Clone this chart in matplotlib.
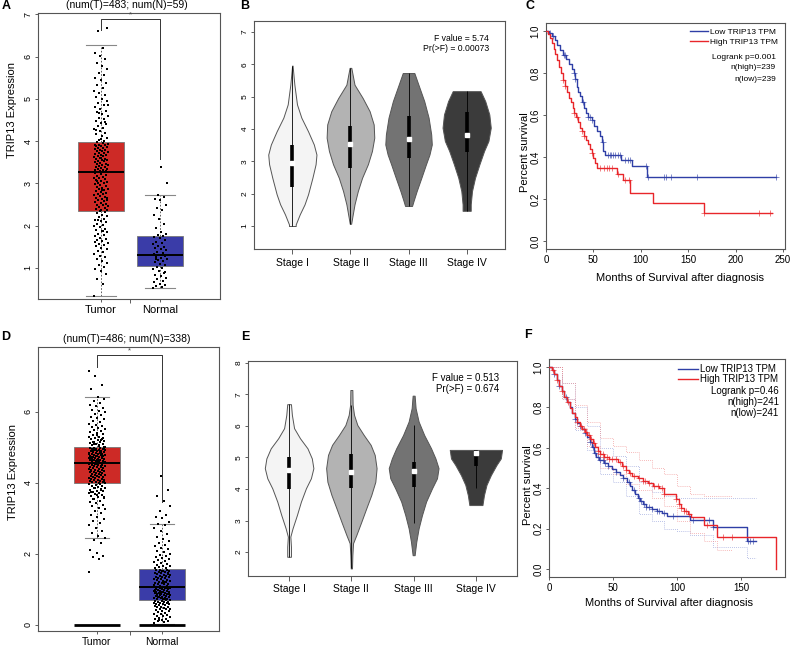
import numpy as np
import matplotlib
matplotlib.use("Agg")
import matplotlib.pyplot as plt

plt.rcParams['font.family'] = ['Liberation Sans', 'DejaVu Sans']

W, H = 790, 648

# ---------------- A / D : expression box plots ----------------
groups = ["Tumor", "Normal"]

A_title = "(num(T)=483; num(N)=59)"
A_q1 = [2.35, 1.05]
A_med = [3.27, 1.30]
A_q3 = [3.98, 1.75]
A_lo = [0.33, 0.52]
A_hi = [6.28, 2.73]
A_sig = [6.63, 6.89, 3.58]   # left drop, top, right drop

A_tumor = [
    0.33, 0.62, 0.74, 0.86, 0.93, 0.98, 1.03, 1.08, 1.12, 1.17, 1.21, 1.25, 1.29, 1.33,
    1.37, 1.41, 1.44, 1.48, 1.51, 1.54, 1.57, 1.6, 1.63, 1.66, 1.69, 1.72, 1.75, 1.78,
    1.81, 1.84, 1.87, 1.9, 1.93, 1.96, 1.99, 2.02, 2.05, 2.08, 2.11, 2.14, 2.17, 2.2,
    2.23, 2.26, 2.29, 2.32, 2.34, 1.62, 1.88, 2.13,
    2.36, 2.38, 2.4, 2.42, 2.44, 2.46, 2.48, 2.5, 2.52, 2.54, 2.56, 2.58, 2.6, 2.62,
    2.64, 2.66, 2.68, 2.7, 2.72, 2.74, 2.76, 2.78, 2.8, 2.82, 2.84, 2.86, 2.88, 2.9,
    2.92, 2.94, 2.96, 2.98, 3.0, 3.02, 3.04, 3.06, 3.08, 3.1, 3.12, 3.14, 3.16, 3.18,
    3.2, 3.22, 3.24, 3.26, 2.45, 2.65, 2.85, 3.05,
    3.28, 3.29, 3.31, 3.32, 3.34, 3.35, 3.37, 3.38, 3.4, 3.41, 3.43, 3.44, 3.46, 3.47,
    3.49, 3.5, 3.52, 3.53, 3.55, 3.56, 3.58, 3.59, 3.61, 3.62, 3.64, 3.65, 3.67, 3.68,
    3.7, 3.71, 3.73, 3.74, 3.76, 3.77, 3.79, 3.8, 3.82, 3.83, 3.85, 3.86, 3.88, 3.89,
    3.91, 3.92, 3.94, 3.95, 3.97, 3.3, 3.6, 3.9,
    4.0, 4.04, 4.08, 4.12, 4.16, 4.2, 4.24, 4.28, 4.32, 4.36, 4.4, 4.44, 4.48, 4.52,
    4.56, 4.6, 4.64, 4.68, 4.72, 4.76, 4.8, 4.85, 4.9, 4.95, 5.0, 5.05, 5.1, 5.15,
    5.2, 5.26, 5.32, 5.38, 5.44, 5.5, 5.56, 5.62, 5.7, 5.78, 5.86, 5.94, 6.02, 6.08,
    6.2, 6.62, 6.68, 4.06, 4.26, 4.46, 4.66, 4.86,
]
A_normal = [
    0.52, 0.55, 0.58, 0.6, 0.63, 0.66, 0.7, 0.73, 0.77, 0.8, 0.84, 0.88, 0.93, 0.97, 1.0,
    1.03, 1.06, 1.1, 1.13, 1.16, 1.19, 1.22, 1.24, 1.26, 1.28, 1.3, 1.32, 1.35, 1.38, 1.42,
    1.45, 1.48, 1.5, 1.53, 1.56, 1.58, 1.62, 1.66, 1.7, 1.73, 1.76, 1.78, 1.8, 1.85, 1.95,
    2.05, 2.15, 2.25, 2.38, 2.42, 2.5, 2.6, 2.63, 2.68, 2.72, 3.0, 3.4, 1.2, 0.9,
]

D_title = "(num(T)=486; num(N)=338)"
D_q1 = [3.98, 0.70]
D_med = [4.57, 1.06]
D_q3 = [5.01, 1.57]
D_lo = [2.44, 0.03]
D_hi = [6.41, 2.83]
D_base = [0.0, 0.0]
D_sig = [7.27, 7.59, 3.47]

D_tumor = [
    1.5, 1.86, 1.9, 1.95, 2.02, 2.1, 2.3, 2.4, 2.44, 2.5, 2.58, 2.65, 2.72, 2.8, 2.86,
    2.92, 2.98, 3.04, 3.1, 3.15, 3.2, 3.25, 3.3, 3.34, 3.38, 3.42, 3.46, 3.5, 3.53, 3.56,
    3.59, 3.62, 3.65, 3.68, 3.7, 3.72, 3.74, 3.76, 3.78, 3.8, 3.82, 3.84, 3.86, 3.88, 3.9,
    3.92, 3.94, 3.96, 3.97, 3.55, 3.61, 3.67, 3.73, 3.79, 3.85,
    3.99, 4.0, 4.01, 4.02, 4.03, 4.04, 4.06, 4.07, 4.08, 4.09, 4.1, 4.11, 4.13, 4.14, 4.15,
    4.16, 4.17, 4.18, 4.2, 4.21, 4.22, 4.23, 4.24, 4.25, 4.27, 4.28, 4.29, 4.3, 4.31, 4.32,
    4.34, 4.35, 4.36, 4.37, 4.38, 4.39, 4.41, 4.42, 4.43, 4.44, 4.45, 4.46, 4.48, 4.49, 4.5,
    4.51, 4.52, 4.53, 4.55, 4.56, 4.05, 4.19, 4.33, 4.47, 4.54,
    4.58, 4.59, 4.6, 4.61, 4.62, 4.63, 4.64, 4.65, 4.66, 4.67, 4.68, 4.69, 4.7, 4.71, 4.72,
    4.73, 4.74, 4.75, 4.76, 4.77, 4.78, 4.79, 4.8, 4.81, 4.82, 4.83, 4.84, 4.85, 4.86, 4.87,
    4.88, 4.89, 4.9, 4.91, 4.92, 4.93, 4.94, 4.95, 4.96, 4.97, 4.98, 4.99, 5.0, 4.615, 4.665,
    4.715, 4.765, 4.815, 4.865, 4.915, 4.965, 4.635, 4.735, 4.835, 4.935,
    5.02, 5.04, 5.06, 5.08, 5.1, 5.12, 5.14, 5.16, 5.18, 5.2, 5.22, 5.24, 5.26, 5.28, 5.3,
    5.33, 5.36, 5.39, 5.42, 5.45, 5.48, 5.51, 5.54, 5.57, 5.6, 5.63, 5.66, 5.7, 5.74, 5.78,
    5.82, 5.86, 5.9, 5.94, 5.98, 6.02, 6.06, 6.1, 6.15, 6.2, 6.25, 6.3, 6.35, 6.41, 6.64,
    6.75, 7.0, 7.15, 5.05, 5.15, 5.25, 5.35, 5.13, 5.21, 5.09,
]
D_normal = [
    0.05, 0.08, 0.1, 0.12, 0.14, 0.16, 0.18, 0.2, 0.22, 0.24, 0.26, 0.28, 0.3, 0.32, 0.34,
    0.36, 0.38, 0.4, 0.42, 0.44, 0.45, 0.46, 0.48, 0.5, 0.51, 0.52, 0.54, 0.55, 0.56, 0.58,
    0.59, 0.6, 0.61, 0.62, 0.63, 0.64, 0.65, 0.66, 0.67, 0.68, 0.69, 0.15,
    0.71, 0.72, 0.73, 0.74, 0.75, 0.76, 0.77, 0.78, 0.79, 0.8, 0.81, 0.82, 0.83, 0.84, 0.85,
    0.86, 0.87, 0.88, 0.89, 0.9, 0.91, 0.92, 0.93, 0.94, 0.95, 0.96, 0.97, 0.98, 0.99, 1.0,
    1.01, 1.02, 1.03, 1.04, 1.05, 0.745, 0.805, 0.865, 0.925, 0.985, 1.035, 0.775, 0.895,
    1.07, 1.08, 1.1, 1.11, 1.12, 1.14, 1.15, 1.16, 1.18, 1.19, 1.2, 1.22, 1.23, 1.24, 1.26,
    1.27, 1.28, 1.3, 1.31, 1.32, 1.34, 1.35, 1.36, 1.38, 1.39, 1.4, 1.42, 1.43, 1.44, 1.46,
    1.47, 1.48, 1.5, 1.51, 1.52, 1.54, 1.55, 1.56, 1.09, 1.21, 1.33, 1.45, 1.53,
    1.59, 1.61, 1.63, 1.65, 1.67, 1.7, 1.72, 1.75, 1.78, 1.8, 1.83, 1.86, 1.89, 1.92, 1.95,
    1.98, 2.01, 2.05, 2.09, 2.13, 2.17, 2.21, 2.26, 2.31, 2.36, 2.42, 2.48, 2.55, 2.63, 2.72,
    2.8, 2.83, 2.9, 3.0, 3.05, 3.1, 3.2, 3.35, 3.5, 3.62, 3.8, 4.2,
]

# ---------------- B / E : stage violins ----------------
stages = ["Stage I", "Stage II", "Stage III", "Stage IV"]
stage_colors = ["#F4F4F4", "#B3B3B3", "#737373", "#3B3B3B"]

B_stat = ["F value = 5.74", "Pr(>F) = 0.00073"]
B_y = [
    [1.0, 1.05, 1.36, 1.67, 1.98, 2.49, 2.91, 3.21, 3.52, 3.93, 4.35, 4.76, 5.37, 5.96],
    [1.07, 1.26, 1.67, 2.08, 2.49, 2.91, 3.32, 3.73, 4.14, 4.55, 4.96, 5.37, 5.89],
    [1.62, 1.77, 2.08, 2.49, 2.91, 3.21, 3.52, 3.83, 4.35, 4.86, 5.37, 5.73],
    [1.47, 1.67, 2.08, 2.49, 2.91, 3.32, 3.63, 4.04, 4.45, 4.86, 5.17],
]
B_hw = [
    [0.058, 0.058, 0.127, 0.21, 0.27, 0.345, 0.40, 0.415, 0.37, 0.27, 0.155, 0.08, 0.035, 0.004],
    [0.012, 0.03, 0.07, 0.127, 0.20, 0.30, 0.37, 0.41, 0.40, 0.33, 0.21, 0.07, 0.015],
    [0.06, 0.085, 0.14, 0.22, 0.30, 0.36, 0.40, 0.39, 0.345, 0.27, 0.17, 0.10],
    [0.07, 0.07, 0.092, 0.144, 0.22, 0.30, 0.375, 0.415, 0.39, 0.32, 0.24],
]
B_q1 = [2.21, 2.78, 3.11, 3.30]
B_med = [2.94, 3.54, 3.68, 3.81]
B_q3 = [3.52, 4.09, 4.40, 4.52]
B_lo = [1.0, 1.07, 1.62, 1.47]
B_hi = [5.96, 5.89, 5.73, 5.17]

E_stat = ["F value = 0.513", "Pr(>F) = 0.674"]
E_y = [
    [1.85, 2.17, 2.49, 2.75, 3.17, 3.60, 4.02, 4.34, 4.66, 4.97, 5.29, 5.61, 5.93, 6.35, 6.69],
    [1.48, 1.90, 2.28, 2.54, 2.96, 3.39, 3.81, 4.23, 4.66, 5.08, 5.40, 5.71, 6.03, 6.35, 6.67, 7.14],
    [1.90, 2.33, 2.75, 3.17, 3.60, 4.02, 4.34, 4.66, 4.97, 5.29, 5.71, 6.14, 6.56, 6.96],
    [3.49, 3.81, 4.13, 4.44, 4.76, 4.97, 5.24],
]
E_hw = [
    [0.03, 0.03, 0.02, 0.055, 0.125, 0.19, 0.27, 0.35, 0.39, 0.365, 0.295, 0.175, 0.08, 0.045, 0.03],
    [0.01, 0.016, 0.027, 0.08, 0.16, 0.24, 0.32, 0.385, 0.405, 0.375, 0.31, 0.20, 0.096, 0.043, 0.02, 0.016],
    [0.016, 0.043, 0.08, 0.134, 0.20, 0.295, 0.375, 0.40, 0.35, 0.28, 0.17, 0.08, 0.032, 0.016],
    [0.105, 0.13, 0.17, 0.24, 0.33, 0.40, 0.42],
]
E_q1 = [3.99, 4.02, 4.07, 4.73]
E_med = [4.60, 4.55, 4.58, 5.15]
E_q3 = [5.00, 5.11, 4.87, 5.24]
E_lo = [1.85, 1.48, 2.91, 4.02]
E_hi = [6.69, 6.67, 6.03, 5.24]

# ---------------- C / F : Kaplan-Meier ----------------
km_labels = ["Low TRIP13 TPM", "High TRIP13 TPM"]
km_colors = ["#2F3FA6", "#E8262A"]

C_text = ["Logrank p=0.001", "n(high)=239", "n(low)=239"]
C_low_t = [0, 3, 6, 9, 12, 15, 18, 21, 24, 27, 29, 31, 32.5, 34, 36, 38, 40, 42, 44, 48,
           51, 54, 57, 59, 60.5, 62, 79, 91, 106, 243]
C_low_s = [1.0, 0.99, 0.975, 0.957, 0.935, 0.91, 0.885, 0.865, 0.845, 0.82, 0.80, 0.77,
           0.735, 0.71, 0.69, 0.66, 0.635, 0.61, 0.59, 0.575, 0.55, 0.525, 0.50, 0.47,
           0.43, 0.41, 0.385, 0.355, 0.305, 0.305]
C_low_cens = [4, 7, 19, 20, 30, 31, 39, 44, 46, 48, 60, 65, 67, 69, 71, 73, 76, 78, 83,
              86, 89, 105, 108, 124, 126, 132, 159, 243]
C_high_t = [0, 2, 4, 6, 8, 10, 12, 14, 16, 18, 20, 22, 24, 26, 28, 30, 32, 34, 36, 38, 40,
            42, 44, 46, 48, 50, 52, 54, 74.5, 81.6, 88.6, 113, 167, 238]
C_high_s = [1.0, 0.985, 0.965, 0.945, 0.915, 0.89, 0.86, 0.83, 0.80, 0.765, 0.74, 0.71,
            0.68, 0.66, 0.635, 0.61, 0.59, 0.565, 0.54, 0.525, 0.50, 0.48, 0.46, 0.44,
            0.42, 0.395, 0.37, 0.35, 0.32, 0.29, 0.227, 0.183, 0.135, 0.135]
C_high_cens = [18, 20, 30, 33, 38, 40, 49, 57, 61, 64, 66, 70, 76, 83, 87, 167, 225, 236]

F_text = ["Logrank p=0.46", "n(high)=241", "n(low)=241"]
F_low_t = [0, 2, 4, 6, 8, 10, 12, 14, 16, 18, 20, 22, 24, 26, 28, 30, 32, 33.5, 35, 37, 39,
           43, 46, 49, 52, 55, 58, 61, 63, 65, 67, 69, 71, 73, 76, 80, 84, 88, 92, 110,
           128, 154, 161]
F_low_s = [1.0, 0.985, 0.965, 0.935, 0.905, 0.88, 0.85, 0.825, 0.80, 0.77, 0.745, 0.725,
           0.71, 0.695, 0.675, 0.655, 0.63, 0.605, 0.575, 0.555, 0.54, 0.525, 0.51, 0.495,
           0.48, 0.465, 0.45, 0.43, 0.41, 0.39, 0.37, 0.35, 0.335, 0.32, 0.305, 0.295,
           0.285, 0.275, 0.262, 0.243, 0.208, 0.14, 0.14]
F_low_cens = [4, 8, 13, 20, 24, 28, 32, 34, 36, 38, 40, 42, 44, 46, 52, 58, 62, 66, 70, 72,
              74, 76, 78, 80, 84, 86, 90, 97, 112, 125, 128, 155, 157, 159]
F_high_t = [0, 2, 4, 6, 8, 10, 12, 14, 16, 18, 20, 22, 24, 26, 28, 30, 32, 34, 36, 38, 40,
            43, 47, 54, 57, 60, 62, 65, 69, 73, 77, 81, 86, 90, 99, 101, 103, 105, 108,
            111, 121, 131, 177, 177]
F_high_s = [1.0, 0.985, 0.965, 0.935, 0.905, 0.88, 0.85, 0.825, 0.795, 0.77, 0.75, 0.73,
            0.71, 0.695, 0.68, 0.665, 0.645, 0.625, 0.605, 0.585, 0.57, 0.555, 0.545, 0.53,
            0.51, 0.49, 0.475, 0.46, 0.45, 0.435, 0.425, 0.41, 0.40, 0.37, 0.345, 0.32,
            0.30, 0.285, 0.27, 0.256, 0.218, 0.16, 0.0, 0.0]
F_high_cens = [3, 6, 10, 15, 22, 25, 27, 29, 31, 33, 35, 38, 40, 42, 43, 45, 47, 49, 52, 55,
               58, 60, 63, 66, 70, 73, 75, 78, 82, 85, 88, 90, 99, 101, 103, 105, 107, 109,
               123, 136, 143]
# dotted 95% bands
F_low_band_t = [0, 10, 20, 30, 40, 50, 60, 70, 80, 90, 100, 110, 128, 154, 161]
F_low_up = [1.0, 0.92, 0.80, 0.71, 0.60, 0.56, 0.51, 0.43, 0.38, 0.36, 0.35, 0.35, 0.35, 0.35, 0.35]
F_low_dn = [1.0, 0.84, 0.69, 0.59, 0.47, 0.43, 0.36, 0.27, 0.24, 0.20, 0.19, 0.17, 0.11, 0.055, 0.055]
F_high_band_t = [0, 10, 20, 30, 40, 50, 60, 70, 80, 90, 100, 110, 121, 131, 143]
F_high_up = [1.0, 0.92, 0.81, 0.73, 0.65, 0.61, 0.58, 0.54, 0.50, 0.47, 0.41, 0.37, 0.36, 0.36, 0.36]
F_high_dn = [1.0, 0.84, 0.70, 0.61, 0.50, 0.47, 0.42, 0.39, 0.35, 0.31, 0.24, 0.18, 0.14, 0.094, 0.094]


def place(l, t, r, b):
    return [l / W, 1 - b / H, (r - l) / W, (b - t) / H]


def r_style(ax, yfs):
    for s in ax.spines.values():
        s.set_color("#555555")
        s.set_linewidth(0.8)
    ax.tick_params(direction="out", length=2.5, width=0.6, color="#444444", pad=1.5)
    ax.tick_params(axis="y", labelrotation=90, labelsize=yfs)
    for lab in ax.get_yticklabels():
        lab.set_va("center")


def golden(n, w):
    # deterministic horizontal spread for the dots
    return ((np.arange(n) * 0.6180339887) % 1.0 - 0.5) * 2 * w


def box_panel(ax, q1, med, q3, lo, hi, tumor, normal, sig, title, yl, xl, width, capw, jit, xpad, xfs):
    stats = []
    for i in range(2):
        stats.append(dict(q1=q1[i], med=med[i], q3=q3[i], whislo=lo[i], whishi=hi[i], fliers=[]))
    bp = ax.bxp(stats, positions=[1, 2], widths=width, patch_artist=True, showfliers=False,
                capwidths=capw,
                boxprops=dict(edgecolor="#777777", linewidth=0.6),
                medianprops=dict(color="black", linewidth=1.4),
                whiskerprops=dict(color="#444444", linewidth=0.6, linestyle=(0, (2, 2))),
                capprops=dict(color="#888888", linewidth=0.8))
    bp["boxes"][0].set_facecolor("#CD2A26")
    bp["boxes"][1].set_facecolor("#3A3CA8")
    for i, vals in enumerate([tumor, normal]):
        v = np.array(vals)
        ax.scatter(i + 1 + golden(len(v), jit), v, s=2.0, color="black", marker="s",
                   linewidths=0, zorder=4)
    ax.plot([1, 1, 2, 2], [sig[0], sig[1], sig[1], sig[2]], color="#333333", lw=0.7, zorder=5)
    ax.text(1.5, sig[1] + 0.02, "*", ha="center", va="bottom", fontsize=5.5, color="#444444")
    ax.set_xlim(*xl)
    ax.set_ylim(*yl)
    ax.set_xticks([1, 2], groups)
    ax.set_xticks([1.5], minor=True)
    ax.tick_params(axis="x", which="major", length=0, labelsize=xfs, pad=xpad)
    ax.tick_params(axis="x", which="minor", length=3, width=0.6, color="#444444", direction="out")
    ax.set_ylabel("TRIP13 Expression", fontsize=8)
    ax.text(0.49, 1.012, title, transform=ax.transAxes, ha="center", va="bottom", fontsize=7.5)


def violin_panel(ax, ys, hws, q1, med, q3, lo, hi, stat, yl, sfs):
    for i in range(4):
        p = i + 1
        y = np.array(ys[i])
        hw = np.array(hws[i])
        ax.fill_betweenx(y, p - hw, p + hw, facecolor=stage_colors[i], edgecolor="#555555",
                         linewidth=0.7, zorder=2)
        ax.vlines(p, lo[i], hi[i], color="black", lw=0.6, zorder=3)
        ax.vlines(p, q1[i], q3[i], color="black", lw=2.6, zorder=4)
        ax.plot([p], [med[i]], marker="s", ms=2.2, color="white", mec="white", zorder=5)
    ax.set_xlim(0.34, 4.66)
    ax.set_ylim(*yl)
    ax.set_xticks([1, 2, 3, 4], stages)
    ax.tick_params(axis="x", labelsize=7.5)
    ax.text(0.935, 0.945, stat[0] + "\n" + stat[1], transform=ax.transAxes, ha="right",
            va="top", fontsize=sfs, linespacing=1.15)


def km_panel(ax, curves, xl, xt, band=None):
    handles = []
    if band is not None:
        for (bt, up, dn), c in zip(band, ["#8E9AD8", "#F08C8C"]):
            ax.step(bt, up, where="post", color=c, lw=0.6, ls=(0, (1, 1.5)), alpha=0.8)
            ax.step(bt, dn, where="post", color=c, lw=0.6, ls=(0, (1, 1.5)), alpha=0.8)
    for (t, s, cens), c in zip(curves, km_colors):
        t = np.array(t, float)
        s = np.array(s, float)
        ln, = ax.step(t, s, where="post", color=c, lw=1.0, zorder=3)
        handles.append(ln)
        cs = s[np.searchsorted(t, cens, side="right") - 1]
        ax.plot(cens, cs, ls="none", marker="+", ms=4.5, mew=0.7, color=c, alpha=0.6, zorder=3)
    ax.set_xlim(*xl)
    ax.set_ylim(-0.04, 1.04)
    ax.set_xticks(xt)
    ax.set_yticks([0, 0.2, 0.4, 0.6, 0.8, 1.0], ["0.0", "0.2", "0.4", "0.6", "0.8", "1.0"])
    ax.tick_params(axis="x", labelsize=7)
    ax.set_xlabel("Months of Survival after diagnosis", fontsize=8)
    ax.set_ylabel("Percent survival", fontsize=8)
    return handles


fig = plt.figure(figsize=(W / 100, H / 100), dpi=100)

# A
axA = fig.add_axes(place(38, 13.2, 220, 299.2))
box_panel(axA, A_q1, A_med, A_q3, A_lo, A_hi, A_tumor, A_normal, A_sig, A_title,
          (0.26, 7.03), (-0.07, 3.02), 0.78, [0.51, 0.51], 0.12, 1.5, 8)
axA.set_yticks([1, 2, 3, 4, 5, 6, 7])
r_style(axA, 6.5)
axA.yaxis.set_label_coords(-0.113, 0.66)

# D
axD = fig.add_axes(place(38, 347.3, 219, 631))
box_panel(axD, D_q1, D_med, D_q3, D_lo, D_hi, D_tumor, D_normal, D_sig, D_title,
          (-0.169, 7.81), (0.092, 2.877), 0.70, [0.36, 0.36], 0.13, 0.2, 7.5)
axD.hlines(D_base, [1 - 0.35, 2 - 0.35], [1 + 0.35, 2 + 0.35], color="black", lw=2.0, zorder=5)
axD.set_yticks([0, 2, 4, 6])
r_style(axD, 6.5)
axD.yaxis.set_label_coords(-0.113, 0.56)

# B
axB = fig.add_axes(place(254, 21.3, 505, 249.3))
violin_panel(axB, B_y, B_hw, B_q1, B_med, B_q3, B_lo, B_hi, B_stat, (0.28, 7.33), 6.2)
axB.set_yticks([1, 2, 3, 4, 5, 6, 7])
r_style(axB, 6)
axB.tick_params(axis="x", length=3.5, pad=3)

# E
axE = fig.add_axes(place(248, 361, 517, 576))
violin_panel(axE, E_y, E_hw, E_q1, E_med, E_q3, E_lo, E_hi, E_stat, (1.24, 8.06), 7)
axE.set_yticks([2, 3, 4, 5, 6, 7, 8])
r_style(axE, 6)
axE.tick_params(axis="x", length=3.5, pad=2.5)

# C
axC = fig.add_axes(place(546, 22.6, 785, 249.4))
h = km_panel(axC, [(C_low_t, C_low_s, C_low_cens), (C_high_t, C_high_s, C_high_cens)],
             (0, 252), [0, 50, 100, 150, 200, 250])
r_style(axC, 7)
axC.legend(h, km_labels, loc="upper left", bbox_to_anchor=(0.603, 0.976), frameon=False,
           fontsize=6, handlelength=2.2, handletextpad=0.2, labelspacing=0.25,
           borderpad=0, borderaxespad=0)
for txt, yy in zip(C_text, [0.848, 0.80, 0.75]):
    axC.text(0.962, yy, txt, transform=axC.transAxes, ha="right", va="center", fontsize=6)
axC.yaxis.set_label_coords(-0.065, 0.43)
axC.xaxis.set_label_coords(0.56, -0.102)

# F
axF = fig.add_axes(place(549, 358.9, 785, 577.1))
h = km_panel(axF, [(F_low_t, F_low_s, F_low_cens), (F_high_t, F_high_s, F_high_cens)],
             (0, 184), [0, 50, 100, 150],
             band=[(F_low_band_t, F_low_up, F_low_dn), (F_high_band_t, F_high_up, F_high_dn)])
r_style(axF, 7)
axF.legend(h, km_labels, loc="upper left", bbox_to_anchor=(0.547, 0.977), frameon=False,
           fontsize=7, handlelength=2.0, handletextpad=0.3, labelspacing=0.0,
           borderpad=0, borderaxespad=0)
for txt, yy in zip(F_text, [0.853, 0.803, 0.752]):
    axF.text(0.975, yy, txt, transform=axF.transAxes, ha="right", va="center", fontsize=7)
axF.yaxis.set_label_coords(-0.066, 0.42)
axF.xaxis.set_label_coords(0.51, -0.094)

# panel letters
for letter, (px, py) in zip("ABCDEF", [(6, 6), (245, 6), (530, 6), (6, 337), (245, 337), (528, 335)]):
    fig.text(px / W, 1 - py / H, letter, ha="center", va="center", fontsize=9, fontweight="bold")

fig.savefig("out.png", dpi=100)
